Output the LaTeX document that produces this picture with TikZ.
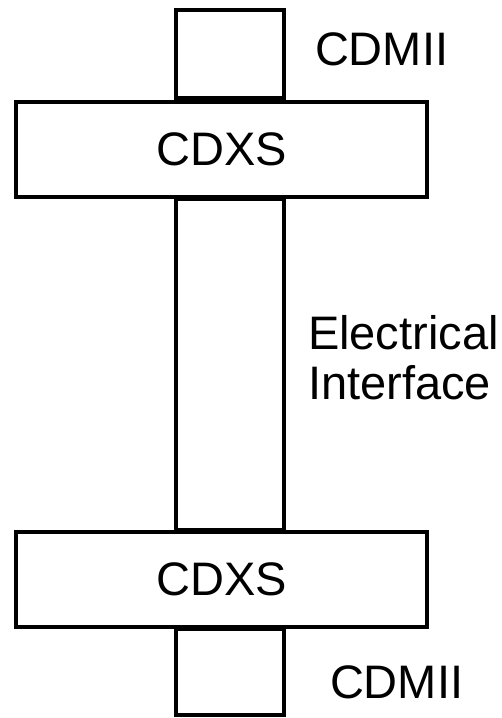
\documentclass[tikz,border=0pt]{standalone}
\usepackage{fontspec}
\setmainfont{Liberation Sans}
\usepackage{tikz}

\begin{document}
\begin{tikzpicture}[x=1pt, y=-1pt, line width=4pt,
  every node/.style={inner sep=0pt, outer sep=0pt, font=\fontsize{47}{50}\selectfont},
  port/.style={draw, minimum width=108pt},
  cdxs/.style={draw, minimum width=411pt, minimum height=95pt}]
  \useasboundingbox (0,0) rectangle (501,718);

  \node[port, minimum height=88pt] (miiTop) at (230,54) {};
  \node[cdxs] (cdxsTop) at (221.5,149.5) {CDXS};

  \node[port, minimum height=331pt] (elec) at (230,364.5) {};

  \node[cdxs] (cdxsBot) at (221.5,579) {CDXS};
  \node[port, minimum height=86pt] (miiBot) at (230,672) {};

  \node[anchor=base west] (miiTopLbl) at (315,65) {CDMII};
  \node[anchor=west, align=left] (elecLbl) at (308,357.5) {Electrical\\Interface};
  \node[anchor=base west] (miiBotLbl) at (330,698) {CDMII};
\end{tikzpicture}
\end{document}
